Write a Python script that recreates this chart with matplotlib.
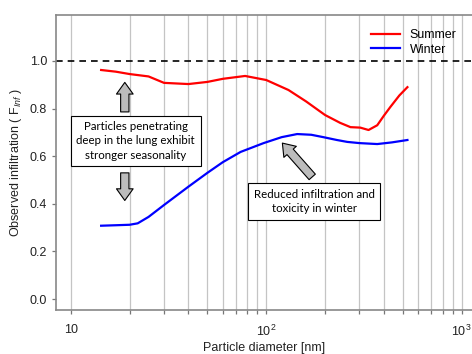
import numpy as np
import matplotlib
matplotlib.use('Agg')
import matplotlib.pyplot as plt
from matplotlib.ticker import FixedLocator, FixedFormatter, NullFormatter

plt.rcParams['font.family'] = ['Liberation Sans', 'DejaVu Sans']
plt.rcParams['mathtext.fontset'] = 'custom'
plt.rcParams['mathtext.rm'] = 'Liberation Sans'
plt.rcParams['mathtext.it'] = 'Liberation Sans:italic'

# data
summer_d = [14.3, 17, 20, 25, 30, 40, 50, 60, 78, 100, 130, 160, 200, 239, 270, 303, 334, 370, 400, 432, 480, 528]
summer_f = [0.962, 0.955, 0.945, 0.935, 0.908, 0.903, 0.912, 0.925, 0.937, 0.92, 0.878, 0.83, 0.773, 0.74, 0.722, 0.72, 0.71, 0.73, 0.77, 0.807, 0.855, 0.89]
winter_d = [14.3, 17, 20, 22, 25, 30, 40, 50, 60, 74, 97, 120, 144, 170, 196, 230, 260, 300, 370, 440, 528]
winter_f = [0.308, 0.31, 0.312, 0.318, 0.345, 0.395, 0.472, 0.53, 0.575, 0.618, 0.655, 0.68, 0.693, 0.69, 0.68, 0.668, 0.66, 0.655, 0.651, 0.658, 0.668]

fig = plt.figure(figsize=(4.72, 3.54), dpi=100)
ax = fig.add_axes([0.1186, 0.1243, 0.8814, 0.8333])

ax.set_xscale('log')
ax.set_xlim(8.4, 1130)
ax.set_ylim(-0.046, 1.193)

grid = [v * 10 ** k for k in (1, 2) for v in range(1, 10)] + [1000]
for g in grid:
    ax.axvline(g, color='#c4c4c4', lw=0.9, zorder=0)

ax.axhline(1.0, color='black', ls=(0, (4, 3)), lw=1.2, zorder=2)

ax.plot(summer_d, summer_f, color='#ff0000', lw=1.6, label='Summer', zorder=3)
ax.plot(winter_d, winter_f, color='#0000ff', lw=1.6, label='Winter', zorder=3)

ax.xaxis.set_major_locator(FixedLocator([10, 100, 1000]))
ax.xaxis.set_major_formatter(FixedFormatter(['10', '$10^2$', '$10^3$']))
ax.xaxis.set_minor_locator(FixedLocator([g for g in grid if g not in (10, 100, 1000)]))
ax.xaxis.set_minor_formatter(NullFormatter())
ax.set_yticks([0.0, 0.2, 0.4, 0.6, 0.8, 1.0])
ax.set_yticklabels(['0.0', '0.2', '0.4', '0.6', '0.8', '1.0'])
ax.tick_params(axis='both', which='both', colors='#777777', labelcolor='#222222', labelsize=9, length=3, width=0.9)
ax.tick_params(axis='x', which='major', pad=7)

for s in ['left', 'bottom', 'top']:
    ax.spines[s].set_color('#888888')
    ax.spines[s].set_linewidth(1.2)
ax.spines['right'].set_visible(False)

ax.set_xlabel('Particle diameter [nm]', fontsize=9, color='#222222', labelpad=2)
ax.set_ylabel(r'Observed infiltration ( F$_{\mathit{Inf}}$ )', fontsize=9, color='#222222', labelpad=4)

leg = ax.legend(loc='upper right', bbox_to_anchor=(0.99, 0.99), frameon=False, fontsize=9,
                handlelength=2.3, handletextpad=0.8, labelspacing=0.2)

arrow_style = 'simple,head_length=0.7,head_width=1.0,tail_width=0.5'
aprops = dict(arrowstyle=arrow_style, fc='#bcbcbc', ec='black', lw=0.8, mutation_scale=12,
              shrinkA=0, shrinkB=0)
ax.annotate('', xy=(18.9, 0.91), xytext=(18.9, 0.786), arrowprops=aprops, zorder=4)
ax.annotate('', xy=(18.9, 0.414), xytext=(18.9, 0.53), arrowprops=aprops, zorder=4)
ax.annotate('', xy=(121, 0.655), xytext=(172, 0.513), arrowprops=aprops, zorder=4)

box = dict(boxstyle='square,pad=0.5', fc='white', ec='black', lw=0.8)
ax.text(21.5, 0.664, 'Particles penetrating\ndeep in the lung exhibit\nstronger seasonality',
        ha='center', va='center', fontsize=8.3, family=['Lato', 'DejaVu Sans'],
        linespacing=1.35, bbox=box, zorder=5)
ax.text(176, 0.41, 'Reduced infiltration and\ntoxicity in winter',
        ha='center', va='center', fontsize=8.3, family=['Lato', 'DejaVu Sans'],
        linespacing=1.35, bbox=box, zorder=5)

fig.savefig('out.png', dpi=100)
